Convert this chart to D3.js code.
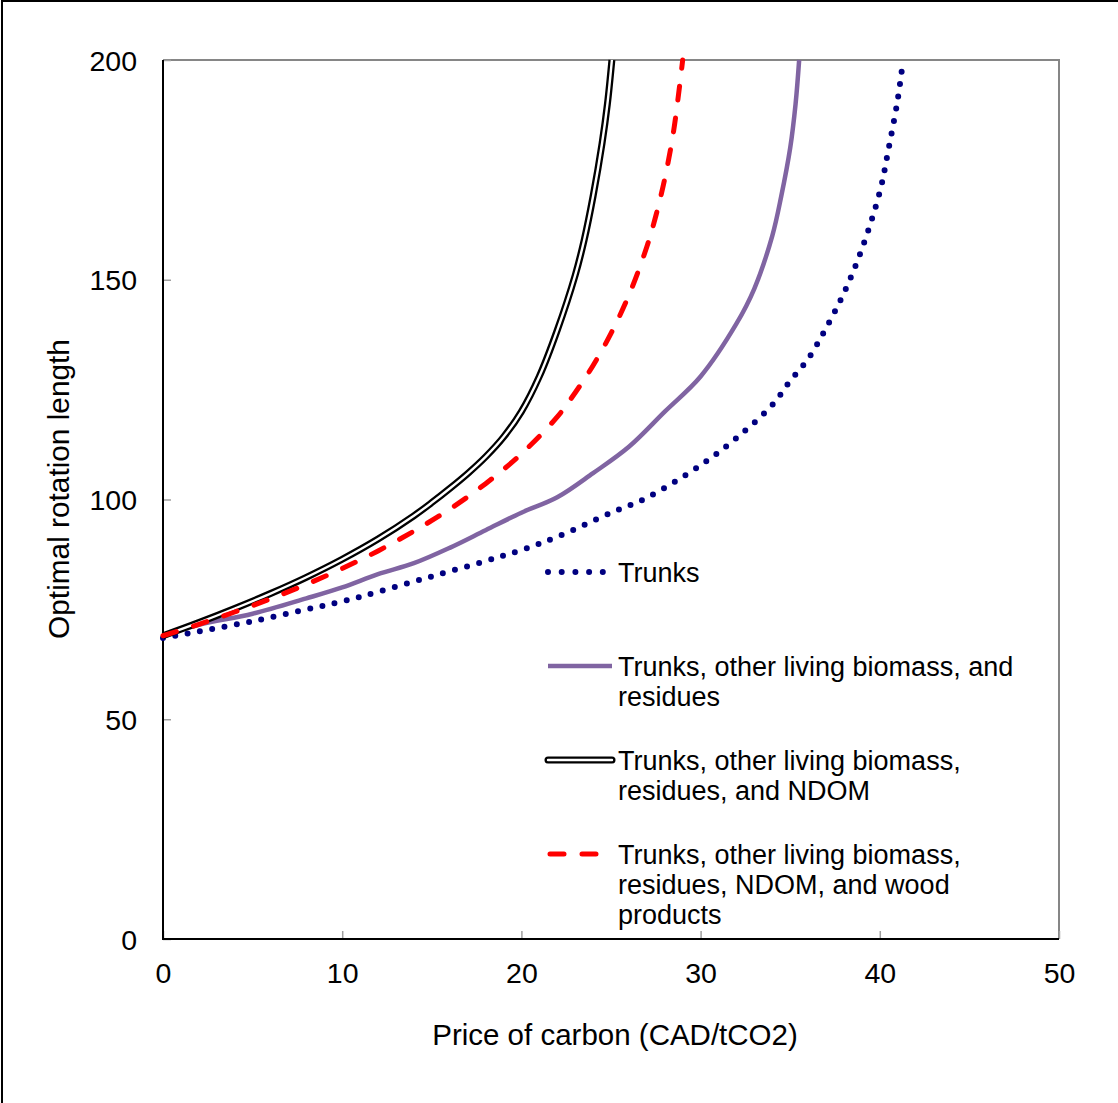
<!DOCTYPE html>
<html>
<head>
<meta charset="utf-8">
<script src="https://cdn.jsdelivr.net/npm/d3@7"></script>
<style>
  body { margin: 0; background: #fff; }
  text { font-family: "Liberation Sans", Arial, sans-serif; fill: #000; }
</style>
</head>
<body>
<div id="chart"></div>
<script>
// values
const trunksX = [0, 2, 5, 8, 10, 12, 15, 18, 20, 22, 25, 27, 30, 32, 34, 35, 36, 37, 38, 39, 40, 40.5, 41, 41.3];
const trunksY = [68.5, 70, 72.3, 75, 76.8, 79, 82.5, 86, 88.5, 91.5, 97, 100.4, 107.8, 114, 121.5, 127, 132, 139, 147, 157, 170, 180, 191, 200];

const livingX = [0, 2, 5, 8, 10, 12, 14, 16, 18, 20, 22, 24, 26, 28, 30, 32, 33, 34, 34.5, 35, 35.3, 35.5];
const livingY = [69, 71.5, 74, 77.5, 80, 83, 85.5, 89, 93, 97, 100.5, 106, 112, 120, 128, 140, 148, 160, 169, 180, 190, 200];

const ndomX = [0, 2, 4, 6, 8, 10, 12, 14, 15, 16, 17, 18, 19, 20, 21, 22, 23, 23.5, 24, 24.5, 24.8, 25.05];
const ndomY = [69, 72, 75.2, 78.6, 82.3, 86.4, 91, 96.3, 99.3, 102.5, 105.9, 109.7, 114.2, 120, 128, 138.5, 151, 159, 169, 181, 190, 200];

const woodX = [0, 2, 4, 6, 8, 10, 12, 14, 16, 18, 20, 22, 23, 24, 25, 26, 27, 27.5, 28, 28.5, 29];
const woodY = [69, 71.6, 74.4, 77.4, 80.7, 84.3, 88.3, 92.8, 97.8, 103.6, 110.4, 118.8, 124.3, 130.5, 137.8, 146.5, 157.5, 164.5, 173, 184, 200];

const xTicks = [0, 10, 20, 30, 40, 50];
const yTicks = [0, 50, 100, 150, 200];

const legendLabels = [
  ["Trunks"],
  ["Trunks, other living biomass, and", "residues"],
  ["Trunks, other living biomass,", "residues, and NDOM"],
  ["Trunks, other living biomass,", "residues, NDOM, and wood", "products"]
];

const W = 1118, H = 1103;
const plotLeft = 163, plotTop = 60, plotW = 896, plotH = 879;

const svg = d3.select("#chart").append("svg")
    .attr("width", W)
    .attr("height", H);

// outer frame (only left and top edges show)
svg.append("line").attr("x1", 2).attr("y1", 1).attr("x2", 2).attr("y2", H)
    .attr("stroke", "#000").attr("stroke-width", 2);
svg.append("line").attr("x1", 1).attr("y1", 1).attr("x2", W).attr("y2", 1)
    .attr("stroke", "#000").attr("stroke-width", 2);

const x = d3.scaleLinear().domain([0, 50]).range([plotLeft, plotLeft + plotW]);
const y = d3.scaleLinear().domain([0, 200]).range([plotTop + plotH, plotTop]);

// plot area border: top/right gray
svg.append("path")
    .attr("d", `M${x(0)},${y(200)}H${x(50)}V${y(0)}`)
    .attr("fill", "none")
    .attr("stroke", "#868686")
    .attr("stroke-width", 2);

// axes with inward gray ticks
const xAxis = svg.append("g").attr("transform", `translate(0,${y(0)})`)
    .call(d3.axisBottom(x).tickValues(xTicks).tickSize(-8).tickPadding(0).tickFormat(d3.format("d")));
xAxis.select(".domain").remove();
xAxis.selectAll("line").attr("stroke", "#a0a0a0").attr("stroke-width", 1.5);
xAxis.selectAll("text").attr("font-size", 28.5).attr("dy", null).attr("y", 44)
    .attr("font-family", "Liberation Sans, Arial, sans-serif");

const yAxis = svg.append("g").attr("transform", `translate(${x(0)},0)`)
    .call(d3.axisLeft(y).tickValues(yTicks).tickSize(-8).tickPadding(0).tickFormat(d3.format("d")));
yAxis.select(".domain").remove();
yAxis.selectAll("line").attr("stroke", "#a0a0a0").attr("stroke-width", 1.5);
yAxis.selectAll("text").attr("font-size", 28.5).attr("dy", null).attr("x", -26).attr("y", 10)
    .attr("font-family", "Liberation Sans, Arial, sans-serif");

svg.append("line").attr("x1", x(0)).attr("x2", x(0)).attr("y1", y(200)).attr("y2", y(0))
    .attr("stroke", "#000").attr("stroke-width", 2);
svg.append("line").attr("x1", x(0) - 1).attr("x2", x(50)).attr("y1", y(0)).attr("y2", y(0))
    .attr("stroke", "#000").attr("stroke-width", 2);

// axis titles
svg.append("text")
    .attr("x", 615).attr("y", 1045)
    .attr("text-anchor", "middle")
    .attr("font-size", 29.5)
    .text("Price of carbon (CAD/tCO2)");

svg.append("text")
    .attr("transform", "translate(69,489) rotate(-90)")
    .attr("text-anchor", "middle")
    .attr("font-size", 29.8)
    .text("Optimal rotation length");

const line = d3.line()
    .x(d => x(d[0]))
    .y(d => y(d[1]))
    .curve(d3.curveCatmullRom.alpha(0.5));

const zip = (a, b) => a.map((v, i) => [v, b[i]]);

const plot = svg.append("g");

// Trunks: navy round dots
plot.append("path")
    .datum(zip(trunksX, trunksY))
    .attr("d", line)
    .attr("fill", "none")
    .attr("stroke", "#000080")
    .attr("stroke-width", 6)
    .attr("stroke-linecap", "round")
    .attr("stroke-dasharray", "0 12.5");

// Trunks + living + residues: purple solid
plot.append("path")
    .datum(zip(livingX, livingY))
    .attr("d", line)
    .attr("fill", "none")
    .attr("stroke", "#8064a2")
    .attr("stroke-width", 4.5);

// + NDOM: black double line
plot.append("path")
    .datum(zip(ndomX, ndomY))
    .attr("d", line)
    .attr("fill", "none")
    .attr("stroke", "#000")
    .attr("stroke-width", 7);
plot.append("path")
    .datum(zip(ndomX, ndomY))
    .attr("d", line)
    .attr("fill", "none")
    .attr("stroke", "#fff")
    .attr("stroke-width", 2.4);

// + wood products: red dashed
plot.append("path")
    .datum(zip(woodX, woodY))
    .attr("d", line)
    .attr("fill", "none")
    .attr("stroke", "#ff0000")
    .attr("stroke-width", 5)
    .attr("stroke-linecap", "round")
    .attr("stroke-dasharray", "14 18");

// legend
const legend = svg.append("g");
const rowY = [572, 666, 760, 854];
const lx1 = 548, lx2 = 612, tx = 618;

legend.append("line").attr("x1", lx1).attr("x2", 603).attr("y1", rowY[0]).attr("y2", rowY[0])
    .attr("stroke", "#000080").attr("stroke-width", 6)
    .attr("stroke-linecap", "round").attr("stroke-dasharray", "0 13.7");
legend.append("line").attr("x1", lx1).attr("x2", lx2).attr("y1", rowY[1]).attr("y2", rowY[1])
    .attr("stroke", "#8064a2").attr("stroke-width", 4.5);
legend.append("line").attr("x1", lx1).attr("x2", lx2).attr("y1", rowY[2]).attr("y2", rowY[2])
    .attr("stroke", "#000").attr("stroke-width", 7).attr("stroke-linecap", "round");
legend.append("line").attr("x1", lx1).attr("x2", lx2).attr("y1", rowY[2]).attr("y2", rowY[2])
    .attr("stroke", "#fff").attr("stroke-width", 2.4).attr("stroke-linecap", "round");
legend.append("line").attr("x1", 550).attr("x2", 598).attr("y1", rowY[3]).attr("y2", rowY[3])
    .attr("stroke", "#ff0000").attr("stroke-width", 5)
    .attr("stroke-linecap", "round").attr("stroke-dasharray", "14 18");

legendLabels.forEach((lines, i) => {
  const t = legend.append("text")
      .attr("x", tx)
      .attr("y", rowY[i] + 10)
      .attr("font-size", 27);
  lines.forEach((s, j) => {
    t.append("tspan").attr("x", tx).attr("dy", j === 0 ? 0 : 30).text(s);
  });
});
</script>
</body>
</html>
